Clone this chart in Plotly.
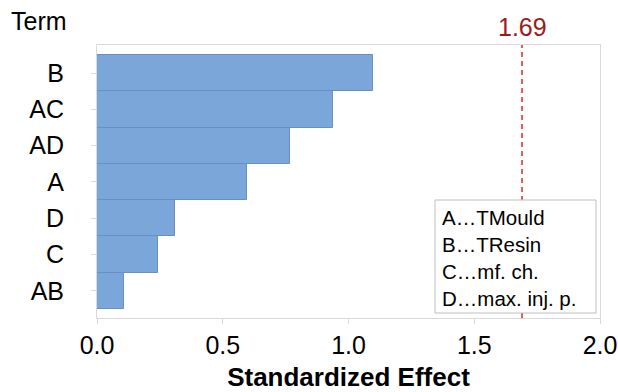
import plotly.graph_objects as go

# Pareto of standardized effects (bottom-to-top order on the axis)
terms = ["AB", "C", "D", "A", "AD", "AC", "B"]
effects = [0.109, 0.243, 0.310, 0.598, 0.768, 0.940, 1.097]
critical_value = 1.69
x_ticks = [0.0, 0.5, 1.0, 1.5, 2.0]
x_tick_text = ["0.0", "0.5", "1.0", "1.5", "2.0"]
factor_key = ["A…TMould", "B…TResin", "C…mf. ch.", "D…max. inj. p."]

FONT = "Liberation Sans, Arial, sans-serif"
W, H = 618, 392
M_L, M_R, M_T, M_B = 97, 18, 45, 74
plot_w = W - M_L - M_R
plot_h = H - M_T - M_B
x_max = 2.0


def px(col):
    """Convert a pixel column to paper x coordinate."""
    return (col - M_L) / plot_w


def py(row):
    """Convert a pixel row to paper y coordinate."""
    return (H - M_B - row) / plot_h


fig = go.Figure(
    go.Bar(
        x=effects,
        y=terms,
        orientation="h",
        marker=dict(color="#7ba6d9", line=dict(color="#6a90c2", width=1)),
        width=1.0,
        showlegend=False,
    )
)

# Critical t-value reference line
fig.add_shape(
    type="line",
    xref="x", yref="paper",
    x0=critical_value, x1=critical_value, y0=0, y1=1,
    line=dict(color="#e0262b", width=1.5, dash="5px,4px"),
)
fig.add_annotation(
    x=critical_value, xref="x", y=1, yref="paper",
    yanchor="bottom", yshift=2,
    text=f"{critical_value:.2f}", showarrow=False,
    font=dict(family=FONT, size=25, color="#a0191b"),
)

# "Term" axis heading
fig.add_annotation(
    x=px(9), xref="paper", y=py(21), yref="paper",
    text="Term", showarrow=False, xanchor="left", yanchor="middle",
    font=dict(family=FONT, size=25, color="#000000"),
)

# Factor key box
fig.add_shape(
    type="rect", xref="paper", yref="paper",
    x0=px(435), x1=px(596),
    y0=py(313), y1=py(200),
    line=dict(color="#bfbfbf", width=1), fillcolor="white",
)
line_rows = [217, 244.5, 271, 298]
for label, row in zip(factor_key, line_rows):
    fig.add_annotation(
        x=px(440), xref="paper", y=py(row), yref="paper",
        text=label, showarrow=False, xanchor="left", yanchor="middle",
        font=dict(family=FONT, size=20.5, color="#000000"),
    )

fig.update_layout(
    width=W, height=H,
    margin=dict(l=M_L, r=M_R, t=M_T, b=M_B, autoexpand=False),
    plot_bgcolor="white", paper_bgcolor="white",
    bargap=0,
    font=dict(family=FONT, size=25, color="#000000"),
)
fig.update_xaxes(
    range=[0, x_max], automargin=False,
    tickvals=x_ticks, ticktext=x_tick_text,
    showgrid=False, zeroline=False,
    showline=True, mirror=True, linecolor="#d9d9d9", linewidth=1,
    ticks="outside", ticklen=5, tickcolor="#d9d9d9",
    tickfont=dict(family=FONT, size=25),
    title=dict(text="<b>Standardized Effect</b>", font=dict(family=FONT, size=26), standoff=10),
)
fig.update_yaxes(
    type="category", categoryorder="array", categoryarray=terms,
    range=[-0.75, 6.775], automargin=False,
    showgrid=False, zeroline=False,
    showline=True, mirror=True, linecolor="#d9d9d9", linewidth=1,
    ticks="outside", ticklen=5, tickcolor="#d9d9d9",
    tickfont=dict(family=FONT, size=25),
    ticklabelstandoff=22,
)

fig.write_html("out.html")
